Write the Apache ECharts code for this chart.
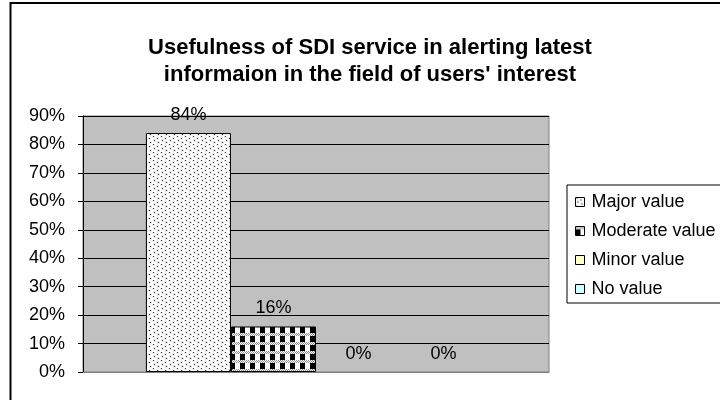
<!DOCTYPE html>
<html>
<head>
<meta charset="utf-8">
<script src="https://cdn.jsdelivr.net/npm/echarts@6/dist/echarts.min.js"></script>
<style>
  html, body { margin: 0; padding: 0; background: #ffffff; }
  #chart { width: 720px; height: 400px; }
</style>
</head>
<body>
<div id="chart"></div>
<script>
// Survey responses (percent of users)
const categories = ['Major value', 'Moderate value', 'Minor value', 'No value'];
const values = [84, 16, 0, 0];
const yTicks = [0, 10, 20, 30, 40, 50, 60, 70, 80, 90];
const titleText = "Usefulness of SDI service in alerting latest\ninformaion in the field of users' interest";

const FONT = 'Liberation Sans, Arial, sans-serif';

// Fill patterns drawn on small canvas tiles
function dottedTile() {
  const c = document.createElement('canvas');
  c.width = 8; c.height = 8;
  const g = c.getContext('2d');
  g.fillStyle = '#ffffff';
  g.fillRect(0, 0, 8, 8);
  const dots = [[1, 0], [5, 2], [2, 4], [6, 6]];
  dots.forEach(([x, y]) => {
    g.fillStyle = '#c8c8c8';
    g.fillRect(x - 0.5, y - 0.5, 2, 2);
    g.fillStyle = '#404040';
    g.fillRect(x, y, 1, 1);
  });
  return c;
}
function checkTile() {
  const c = document.createElement('canvas');
  c.width = 10; c.height = 9;
  const g = c.getContext('2d');
  g.fillStyle = '#ffffff';
  g.fillRect(0, 0, 10, 9);
  // grey dotted band
  for (let y = 0; y < 3; y++) {
    for (let x = 0; x < 10; x++) {
      if ((x + y) % 2 === 0) { g.fillStyle = '#909090'; g.fillRect(x, y, 1, 1); }
    }
  }
  // black / white blocks
  g.fillStyle = '#000000';
  g.fillRect(0, 3, 5, 6);
  return c;
}

const fills = [
  { image: dottedTile(), repeat: 'repeat' },
  { image: checkTile(), repeat: 'repeat' },
  '#ffffcc',
  '#ccffff'
];

const series = categories.map((name, i) => ({
  name: name,
  type: 'bar',
  data: [{
    value: values[i],
    // empty bars get no outline so no stroke shows along the baseline
    itemStyle: { borderWidth: values[i] > 0 ? 1 : 0 }
  }],
  barGap: '0%',
  barCategoryGap: '27%',
  itemStyle: { color: fills[i], borderColor: '#000000', borderWidth: 1 },
  label: {
    show: true,
    position: 'top',
    distance: 9,
    formatter: '{c}%',
    color: '#000000',
    fontFamily: FONT,
    fontSize: 18
  },
  emphasis: { disabled: true },
  animation: false
}));

const chart = echarts.init(document.getElementById('chart'), null, { renderer: 'canvas' });
chart.setOption({
  animation: false,
  backgroundColor: '#ffffff',
  graphic: [
    {
      type: 'rect',
      shape: { x: 10.5, y: 3, width: 800, height: 500 },
      style: { fill: 'none', stroke: '#000000', lineWidth: 2 },
      silent: true,
      z: -1
    },
    {
      type: 'text',
      x: 370,
      y: 34,
      style: {
        text: titleText,
        font: 'bold 22px ' + FONT,
        fill: '#000000',
        textAlign: 'center',
        textVerticalAlign: 'top',
        lineHeight: 27
      },
      silent: true
    }
  ],
  grid: {
    left: 83, top: 116, width: 466, height: 256,
    show: true,
    backgroundColor: '#c0c0c0',
    borderColor: '#808080',
    borderWidth: 1
  },
  legend: {
    orient: 'vertical',
    left: 567,
    top: 185,
    padding: [8, 60, 5, 8],
    itemWidth: 9,
    itemHeight: 9,
    itemGap: 11,
    icon: 'rect',
    borderColor: '#000000',
    borderWidth: 1,
    backgroundColor: '#ffffff',
    itemStyle: { borderColor: '#000000', borderWidth: 1 },
    textStyle: { color: '#000000', fontFamily: FONT, fontSize: 18, lineHeight: 18, padding: [0, 0, 0, 2] },
    data: categories
  },
  xAxis: {
    type: 'category',
    data: [''],
    axisLine: { show: true, lineStyle: { color: '#808080', width: 1 } },
    axisTick: { show: false },
    axisLabel: { show: false }
  },
  yAxis: {
    type: 'value',
    min: yTicks[0],
    max: yTicks[yTicks.length - 1],
    interval: 10,
    axisLine: { show: true, lineStyle: { color: '#000000', width: 1 } },
    axisTick: { show: true, length: 5, lineStyle: { color: '#000000' } },
    axisLabel: {
      formatter: '{value}%',
      color: '#000000',
      fontFamily: FONT,
      fontSize: 18,
      margin: 18
    },
    splitLine: { show: true, lineStyle: { color: '#000000', width: 1 } }
  },
  series: series
});
</script>
</body>
</html>
